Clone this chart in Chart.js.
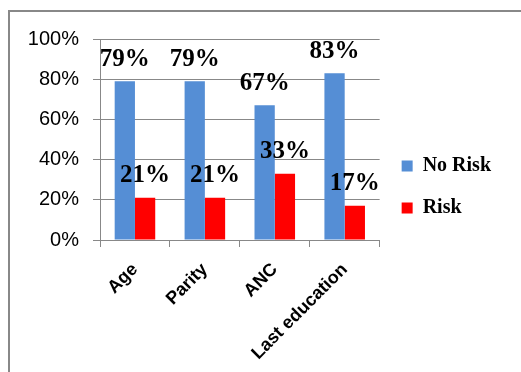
<!DOCTYPE html>
<html>
<head>
<meta charset="utf-8">
<script src="https://cdn.jsdelivr.net/npm/chart.js@4/dist/chart.umd.min.js"></script>
<style>
  html, body { margin: 0; padding: 0; background: #ffffff; }
  #wrap { position: relative; width: 521px; height: 372px; overflow: hidden; }
  #frame { position: absolute; left: 8px; top: 10px; width: 600px; height: 500px;
           border-top: 2px solid #888888; border-left: 2px solid #888888; }
  #c { position: absolute; left: 0; top: 0; }
</style>
</head>
<body>
<div id="wrap">
  <div id="frame"></div>
  <canvas id="c" width="521" height="372"></canvas>
</div>
<script>
const categories = ['Age', 'Parity', 'ANC', 'Last education'];
const noRisk = [79, 79, 67, 83];
const risk = [21, 21, 33, 17];
const seriesNames = ['No Risk', 'Risk'];
const yTicks = [0, 20, 40, 60, 80, 100];

const valueLabels = {
  id: 'valueLabels',
  afterDatasetsDraw(chart) {
    const ctx = chart.ctx;
    ctx.save();
    ctx.font = 'bold 25px "Liberation Serif", serif';
    ctx.fillStyle = '#000000';
    ctx.textAlign = 'center';
    ctx.textBaseline = 'middle';
    chart.data.datasets.forEach((ds, di) => {
      const meta = chart.getDatasetMeta(di);
      meta.data.forEach((bar, i) => {
        ctx.fillText(ds.data[i] + '%', bar.x, bar.y - 22);
      });
    });
    ctx.restore();
  }
};

new Chart(document.getElementById('c'), {
  type: 'bar',
  data: {
    labels: categories,
    datasets: [
      { label: seriesNames[0], data: noRisk, backgroundColor: '#558ED5',
        categoryPercentage: 0.58, barPercentage: 1.0 },
      { label: seriesNames[1], data: risk, backgroundColor: '#FF0000',
        categoryPercentage: 0.58, barPercentage: 1.0 }
    ]
  },
  options: {
    responsive: false,
    animation: false,
    devicePixelRatio: 1,
    layout: { padding: { top: 39, bottom: 0, left: 0, right: 20 } },
    plugins: {
      legend: {
        position: 'right',
        fullSize: false,
        align: 'end',
        labels: {
          boxWidth: 11, boxHeight: 11, padding: 22,
          color: '#000000',
          font: { family: '"Liberation Serif", serif', size: 20, weight: 'bold' }
        }
      },
      tooltip: { enabled: false }
    },
    scales: {
      x: {
        grid: { display: true, drawOnChartArea: false, drawTicks: true, tickLength: 7, color: '#888888' },
        border: { color: '#888888', width: 1 },
        ticks: {
          autoSkip: false, minRotation: 45, maxRotation: 45, padding: 12,
          color: '#000000',
          font: { family: '"Liberation Sans", sans-serif', size: 18, weight: 'bold' }
        },
        afterFit(scale) { scale.height = 132; }
      },
      y: {
        min: 0, max: 100,
        afterBuildTicks(scale) { scale.ticks = yTicks.map(v => ({ value: v })); },
        grid: { color: '#888888', tickLength: 7 },
        border: { color: '#888888', width: 1 },
        ticks: {
          padding: 14, color: '#000000',
          font: { family: '"Liberation Sans", sans-serif', size: 20 },
          callback: (v) => v + '%'
        },
        afterFit(scale) { scale.width = 100; }
      }
    }
  },
  plugins: [valueLabels]
});
</script>
</body>
</html>
